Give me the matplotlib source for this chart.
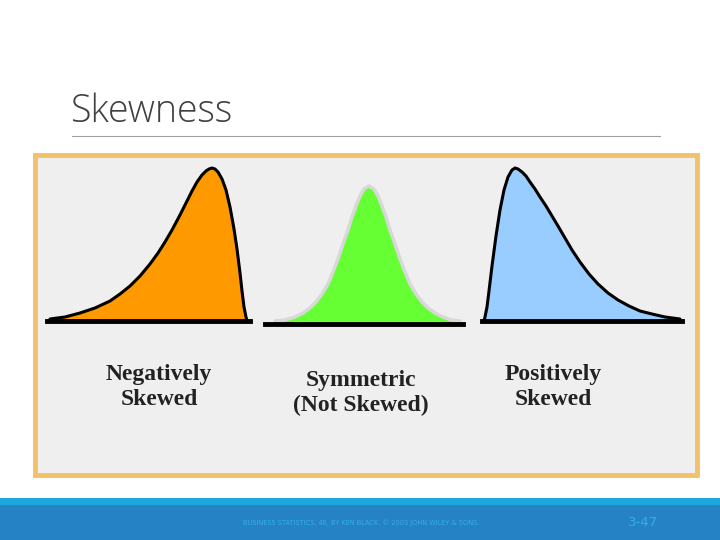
import matplotlib
matplotlib.use("Agg")
import matplotlib.pyplot as plt
from matplotlib.patches import Rectangle

# curve samples (pixel x, height above baseline)
neg_x = [50, 65, 80, 95, 110, 120, 130, 140, 150, 158, 165, 172, 180, 186, 192, 197, 202, 206, 209, 212, 215, 218, 222, 226, 230, 234, 237, 240, 242, 244, 246, 247]
neg_h = [2, 4, 8, 13, 20, 27, 35, 45, 57, 68, 79, 91, 106, 118, 130, 139, 146, 150, 152, 153, 152, 149, 142, 131, 114, 92, 72, 48, 30, 14, 4, 0]
sym_x = [275, 285, 295, 303, 310, 316, 322, 328, 333, 338, 343, 348, 352, 356, 360, 364, 369, 374, 378, 382, 386, 390, 395, 400, 405, 410, 416, 422, 428, 435, 443, 451, 460]
sym_h = [1, 2, 5, 9, 14, 20, 28, 38, 50, 63, 78, 92, 105, 116, 126, 133, 136, 133, 126, 116, 105, 92, 78, 63, 50, 38, 28, 20, 14, 9, 5, 2, 1]
pos_x = [484, 485, 487, 489, 492, 496, 500, 504, 508, 512, 515, 518, 522, 526, 530, 535, 540, 546, 552, 558, 565, 572, 580, 589, 598, 608, 618, 629, 640, 652, 665, 680]
pos_h = [0, 4, 14, 30, 55, 85, 111, 131, 144, 151, 153, 152, 149, 145, 139, 132, 124, 115, 105, 95, 83, 71, 59, 47, 37, 28, 21, 15, 10, 7, 4, 2]
labels = ["Negatively\nSkewed", "Symmetric\n(Not Skewed)", "Positively\nSkewed"]

fig = plt.figure(figsize=(7.2, 5.4), dpi=100)
ax = fig.add_axes([0, 0, 1, 1])
ax.set_xlim(0, 720); ax.set_ylim(540, 0); ax.axis("off")

ax.text(71, 122, "Skewness", fontsize=27, color="#404040", family="Open Sans",
        fontweight="light", va="baseline")
ax.plot([72, 660], [136, 136], color="#A0A0A0", lw=0.8)
ax.add_patch(Rectangle((35, 155), 662, 320, facecolor="#EFEFEF", edgecolor="#F2C26B", lw=3.5))

def curve(xs, hs, base, fc, ec, lw):
    ys = [base - h for h in hs]
    ax.fill_between(xs, ys, base, color=fc, zorder=2)
    ax.plot(xs, ys, color=ec, lw=lw, zorder=3, solid_capstyle="round", solid_joinstyle="round")

curve(neg_x, neg_h, 321, "#FF9900", "black", 2.2)
curve(sym_x, sym_h, 322, "#66FF33", "#D8D8D8", 2.5)
curve(pos_x, pos_h, 321, "#99CCFF", "black", 2.2)
for x0, x1, y in [(47, 250, 321), (265, 463, 324), (482, 682, 321)]:
    ax.plot([x0, x1], [y, y], color="black", lw=3.5, zorder=4)

for x, y, t in [(159, 387, labels[0]), (361, 393, labels[1]), (553, 387, labels[2])]:
    ax.text(x, y, t, ha="center", va="center", fontsize=17, family="Liberation Serif",
            fontweight="bold", color="#222222", linespacing=1.2, fontstretch="expanded")

ax.add_patch(Rectangle((0, 498), 720, 7, facecolor="#1EA7DC", lw=0))
ax.add_patch(Rectangle((0, 505), 720, 35, facecolor="#2582C4", lw=0))
ax.text(361, 523, "BUSINESS STATISTICS, 4E, BY KEN BLACK. © 2003 JOHN WILEY & SONS.",
        ha="center", va="center", fontsize=4.8, color="#35AEE3")
ax.text(643, 523, "3-47", ha="center", va="center", fontsize=9.5, color="#35AEE3")
fig.savefig("out.png", dpi=100)
